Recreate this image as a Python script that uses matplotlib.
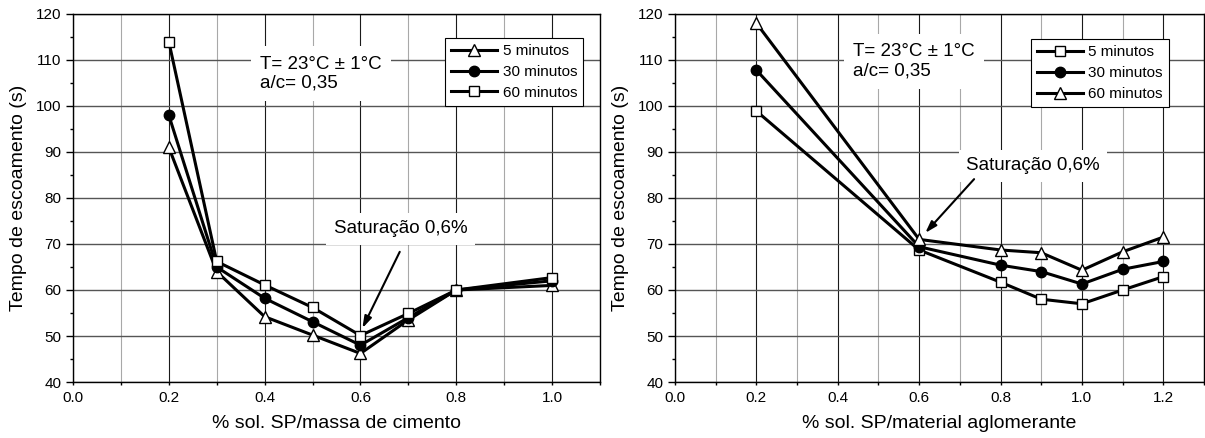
import matplotlib
matplotlib.use("Agg")
import matplotlib.pyplot as plt
from matplotlib.ticker import MultipleLocator

plt.rcParams['font.family'] = ['Liberation Sans', 'DejaVu Sans']

# left panel: % sol. SP / massa de cimento
x_cim = [0.2, 0.3, 0.4, 0.5, 0.6, 0.7, 0.8, 1.0]
cim_5 = [91, 64, 54.2, 50.2, 46.2, 53.5, 60, 61]
cim_30 = [98, 65, 58.2, 53.1, 48, 54, 60, 62]
cim_60 = [114, 66.2, 61.1, 56.2, 50.1, 54.9, 60, 62.7]

# right panel: % sol. SP / material aglomerante
x_agl = [0.2, 0.6, 0.8, 0.9, 1.0, 1.1, 1.2]
agl_5 = [98.9, 68.7, 61.7, 58.0, 57.0, 60.0, 62.9]
agl_30 = [107.8, 69.4, 65.4, 64.0, 61.3, 64.5, 66.2]
agl_60 = [118.0, 71.0, 68.7, 68.1, 64.3, 68.3, 71.5]

labels = ["5 minutos", "30 minutos", "60 minutos"]
ylabel = "Tempo de escoamento (s)"
info_text = "T= 23°C ± 1°C\na/c= 0,35"
sat_text = "Saturação 0,6%"

tri = dict(marker='^', markersize=9, markerfacecolor='white', markeredgecolor='black', markeredgewidth=1)
circ = dict(marker='o', markersize=7.5, markerfacecolor='black', markeredgecolor='black')
sq = dict(marker='s', markersize=7, markerfacecolor='white', markeredgecolor='black', markeredgewidth=1)

fig = plt.figure(figsize=(12.05, 4.38), dpi=100)
ax1 = fig.add_axes([73 / 1205, 56 / 438, 527 / 1205, 368 / 438])
ax2 = fig.add_axes([675 / 1205, 56 / 438, 529 / 1205, 368 / 438])


def style_axes(ax, xmax, xlabel):
    ax.set_xlim(0, xmax)
    ax.set_ylim(40, 120)
    ax.xaxis.set_major_locator(MultipleLocator(0.2))
    ax.xaxis.set_minor_locator(MultipleLocator(0.1))
    ax.yaxis.set_major_locator(MultipleLocator(10))
    ax.yaxis.set_minor_locator(MultipleLocator(5))
    ax.xaxis.set_major_formatter(matplotlib.ticker.FormatStrFormatter('%.1f'))
    ax.grid(which='major', axis='x', color='#1a1a1a', lw=0.8)
    ax.grid(which='minor', axis='x', color='#a8a8a8', lw=0.8)
    ax.grid(which='major', axis='y', color='#555555', lw=1.0)
    ax.set_axisbelow(True)
    ax.tick_params(axis='y', which='major', length=5, width=1, labelsize=11)
    ax.tick_params(axis='y', which='minor', length=2.5, width=1)
    ax.tick_params(axis='x', which='both', length=2.5, width=1, labelsize=11, pad=4)
    for s in ax.spines.values():
        s.set_linewidth(1.0)
    ax.set_xlabel(xlabel, fontsize=14, labelpad=7)
    ax.set_ylabel(ylabel, fontsize=14, labelpad=6)


style_axes(ax1, 1.1, "% sol. SP/massa de cimento")
style_axes(ax2, 1.3, "% sol. SP/material aglomerante")

l1, = ax1.plot(x_cim, cim_5, color='black', lw=2.2, **tri)
l2, = ax1.plot(x_cim, cim_30, color='black', lw=2.2, **circ)
l3, = ax1.plot(x_cim, cim_60, color='black', lw=2.2, **sq)

r1, = ax2.plot(x_agl, agl_5, color='black', lw=2.2, **sq)
r2, = ax2.plot(x_agl, agl_30, color='black', lw=2.2, **circ)
r3, = ax2.plot(x_agl, agl_60, color='black', lw=2.2, **tri)

leg_font = {'family': ['Liberation Sans Narrow', 'Liberation Sans'], 'size': 11}
for ax, handles, anchor in [(ax1, [l1, l2, l3], (0.968, 0.935)),
                            (ax2, [r1, r2, r3], (0.934, 0.932))]:
    leg = ax.legend(handles, labels, loc='upper right', bbox_to_anchor=anchor,
                    borderaxespad=0, prop=leg_font, numpoints=1,
                    handlelength=3.0, handletextpad=0.35, labelspacing=0.45,
                    borderpad=0.4, fancybox=False, framealpha=1)
    leg.get_frame().set_edgecolor('black')
    leg.get_frame().set_linewidth(0.8)

box = dict(boxstyle='square,pad=0.5', fc='white', ec='none')
ax1.text(0.391, 107, info_text, fontsize=13.5, ha='left', va='center',
         linespacing=1.15, bbox=box)
ax2.text(0.438, 109.7, info_text, fontsize=13.5, ha='left', va='center',
         linespacing=1.15, bbox=box)

arrow = dict(arrowstyle='-|>,head_length=0.7,head_width=0.22', color='black', lw=1.5,
             shrinkA=0, shrinkB=0)
ax1.text(0.544, 73.3, sat_text, fontsize=13.5, ha='left', va='center',
         bbox=dict(boxstyle='square,pad=0.4', fc='white', ec='none'))
ax1.annotate('', xy=(0.604, 51.7), xytext=(0.682, 68.3), arrowprops=arrow)
ax2.text(0.716, 87, sat_text, fontsize=13.5, ha='left', va='center',
         bbox=dict(boxstyle='square,pad=0.4', fc='white', ec='none'))
ax2.annotate('', xy=(0.615, 72.4), xytext=(0.735, 84.1), arrowprops=arrow)

fig.savefig("out.png", dpi=100)
